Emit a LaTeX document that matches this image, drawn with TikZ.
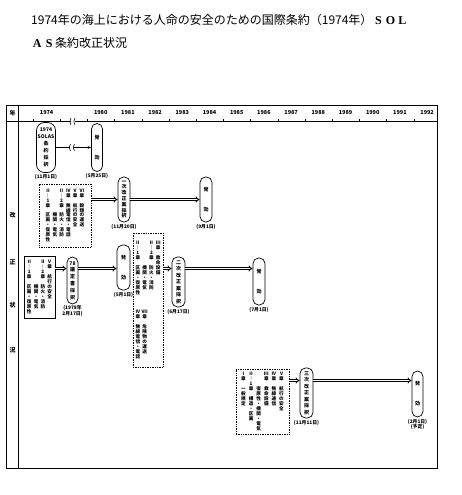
\documentclass[tikz,border=0pt]{standalone}
\usepackage{fontspec}
\setmainfont{Noto Sans CJK JP}
\newfontfamily\romanbold{Liberation Serif}
\usetikzlibrary{arrows.meta,positioning,calc}

% vertical (tategaki) column, one item per line
\makeatletter
\newcommand{\tate}[2][1.08em]{%
  \vtop{\baselineskip=#1\relax\lineskiplimit=-\maxdimen
    \@tfor\tate@c:=#2\do{\hbox to 1em{\hss\tate@c\hss}}}}
\makeatother
\newcommand{\zw}[1]{\makebox[1em]{\romanbold\bfseries #1}}
\newcommand{\tsep}{\hspace{2.2pt}}

\begin{document}
\begin{tikzpicture}[x=1pt, y=-1pt,
    title/.style={font=\fontsize{12}{14}\selectfont, inner sep=0pt},
    yearlbl/.style={font=\fontsize{5.5}{6}\selectfont\bfseries, inner sep=0pt},
    sidelbl/.style={font=\fontsize{6}{7}\selectfont\bfseries, inner sep=0pt},
    stadium/.style={draw, line width=0.7pt, rounded corners=5.5pt, minimum width=12pt, inner sep=0pt, font=\fontsize{5}{6}\selectfont\bfseries},
    datelbl/.style={font=\fontsize{4.8}{5.8}\selectfont\bfseries, inner sep=0pt, align=center},
    listbox/.style={draw, line width=0.7pt, inner sep=0pt, font=\fontsize{4.6}{5}\selectfont\bfseries},
    dotbox/.style={listbox, densely dotted, line width=0.8pt},
    dbl/.style={double, double distance=1.2pt, line width=0.8pt, -{Implies}},
    brkmark/.style={line width=0.6pt},
]
\useasboundingbox (0,0) rectangle (461,495);

    % Title
    \node[title, anchor=west] (title1) at (31,20) {1974年の海上における人命の安全のための国際条約（1974年）\zw{S}\zw{O}\zw{L}};
    \node[title, anchor=west] (title2) at (31,43) {\zw{A}\zw{S}条約改正状況};

    % Frame and time axis
    \draw[line width=1pt] (6.5,105.5) rectangle (437.5,468.5);
    \draw[line width=0.7pt] (6.5,121.5) -- (437.5,121.5);
    \draw[line width=0.7pt] (18.5,105.5) -- (18.5,468.5);
    \node[sidelbl] (nen) at (12.5,113) {年};
    \foreach \ch/\yy in {改/215, 正/262, 状/305, 況/350}
        \node[sidelbl] (side\yy) at (12.5,\yy) {\ch};
    \node[yearlbl] (y1974) at (46.6,113) {1974};
    \foreach \yr [count=\i from 0] in {1980,...,1992}
        \node[yearlbl] (y\yr) at (100.7+27.2*\i,113) {\yr};
    \foreach \k in {0,...,14}
        \draw[line width=0.6pt] (33+27.2*\k,121.5) -- ++(0,-2.5);
    \coordinate (hbrk) at (73,121.5);
    \fill[white] ($(hbrk)+(-2,-1)$) rectangle ($(hbrk)+(2,1)$);
    \draw[brkmark] ($(hbrk)+(-2,-3.5)$) to[bend right=35] ($(hbrk)+(-2,3.5)$);
    \draw[brkmark] ($(hbrk)+(2,-3.5)$) to[bend right=35] ($(hbrk)+(2,3.5)$);

    % 1974 convention
    \node[stadium, minimum width=19pt, minimum height=50pt, rounded corners=8pt] (solas) at (46,147.5) {\tate[7pt]{{1974}{SOLAS}条約採択}};
    \node[datelbl, below=1.5pt of solas] (d-solas) {(11月1日)};
    \node[stadium, minimum width=11pt, minimum height=48pt] (eff1) at (97,147.5) {\tate[20pt]{発効}};
    \node[datelbl, below=1.5pt of eff1] (d-eff1) {(5月25日)};
    \draw[line width=0.8pt, -{Stealth[length=3.5pt,width=2.8pt]}] (solas) -- (eff1);
    \coordinate (brk) at ($(solas.east)!0.47!(eff1.west)$);
    \fill[white] ($(brk)+(-2,-1)$) rectangle ($(brk)+(2,1)$);
    \draw[brkmark] ($(brk)+(-2,-3.5)$) to[bend right=35] ($(brk)+(-2,3.5)$);
    \draw[brkmark] ($(brk)+(2,-3.5)$) to[bend right=35] ($(brk)+(2,3.5)$);

    % first amendments
    \node[dotbox, minimum width=52pt, minimum height=63pt] (rev1) at (65,215.5) {%
        \tate{{II}｜{1}章　区画・復原性}\tsep
        \tate{　　　　　機関・電気}\tsep
        \tate{{II}｜{2}章　防火・消防}\tsep
        \tate{{IV}章　無線電信・電話}\tsep
        \tate{V章　航行の安全}\tsep
        \tate{{VI}章　穀類の運送}};
    \node[stadium, minimum height=45pt] (adopt1) at (124,199.5) {\tate[5.8pt]{一次改正案採択}};
    \node[datelbl, below=1.5pt of adopt1] (d-adopt1) {(11月20日)};
    \node[stadium, minimum height=45pt] (eff2) at (206,199.5) {\tate[20pt]{発効}};
    \node[datelbl, below=1.5pt of eff2] (d-eff2) {(9月1日)};
    \draw[dbl] (rev1.east |- adopt1) -- (adopt1.west);
    \draw[dbl] (adopt1) -- (eff2);

    % 1978 protocol and second amendments
    \coordinate (row3) at (0,268.5);
    \node[listbox, minimum width=31pt, minimum height=62pt] (rev78) at (39.5,287) {%
        \tate{{II}｜{1}章　区画・復原性}\tsep
        \tate{　　　　　機関・電気}\tsep
        \tate{{II}｜{2}章　防火・消防}\tsep
        \tate{V章　航行の安全}};
    \node[stadium, minimum width=11pt, minimum height=47pt] (prot78) at (72.5,280.5) {\tate[6.8pt]{{78}議定書採択}};
    \node[datelbl, below=1pt of prot78] (d-prot78) {(1978年\\2月17日)};
    \node[stadium, minimum width=13pt, minimum height=45pt] (eff3) at (123.5,267.5) {\tate[20pt]{発効}};
    \node[datelbl, below=1.5pt of eff3] (d-eff3) {(5月1日)};
    \node[dotbox, minimum width=30pt, minimum height=134pt] (rev2) at (148,300) {%
        \tate{{II}｜{1}章　区画・復原性　　　{IV}章　無線電信・電話}\tsep
        \tate{　　　　　機関・電気　　　　{VII}章　危険物の運送}\tsep
        \tate{{II}｜{2}章　防火・消防}\tsep
        \tate{{III}章　救命設備}};
    \node[stadium, minimum width=13pt, minimum height=50pt] (adopt2) at (178.5,282) {\tate[6.5pt]{二次改正案採択}};
    \node[datelbl, below=1.5pt of adopt2] (d-adopt2) {(6月17日)};
    \node[stadium, minimum width=12pt, minimum height=47pt] (eff4) at (259,281.5) {\tate[20pt]{発効}};
    \node[datelbl, below=1.5pt of eff4] (d-eff4) {(7月1日)};
    \draw[dbl] (rev78.east |- row3) -- (prot78.west |- row3);
    \draw[dbl] (prot78.east |- row3) -- (eff3.west |- row3);
    \draw[dbl] (rev2.east |- row3) -- (adopt2.west |- row3);
    \draw[dbl] (adopt2.east |- row3) -- (eff4.west |- row3);

    % third amendments
    \coordinate (row4) at (0,380.5);
    \node[dotbox, minimum width=53pt, minimum height=65pt] (rev3) at (262.5,401.5) {%
        \tate{{I}章　一般規定}\hspace{3pt}%
        \tate{{II}｜{1}章　構造・区画}\hspace{3pt}%
        \tate{　　　復原性・機関・電気}\hspace{3pt}%
        \tate{{III}章　救命設備}\hspace{3pt}%
        \tate{{IV}章　無線通信}\hspace{3pt}%
        \tate{V章　航行の安全}};
    \node[stadium, minimum width=13pt, minimum height=50pt] (adopt3) at (306.5,393) {\tate[6.5pt]{三次改正案採択}};
    \node[datelbl, below=1.5pt of adopt3] (d-adopt3) {(11月11日)};
    \node[stadium, minimum width=11pt, minimum height=46pt] (eff5) at (417.5,394) {\tate[20pt]{発効}};
    \node[datelbl, below=1.5pt of eff5] (d-eff5) {(2月1日)\\(予定)};
    \draw[dbl] (rev3.east |- row4) -- (adopt3.west |- row4);
    \draw[dbl] (adopt3.east |- row4) -- (eff5.west |- row4);
\end{tikzpicture}
\end{document}
